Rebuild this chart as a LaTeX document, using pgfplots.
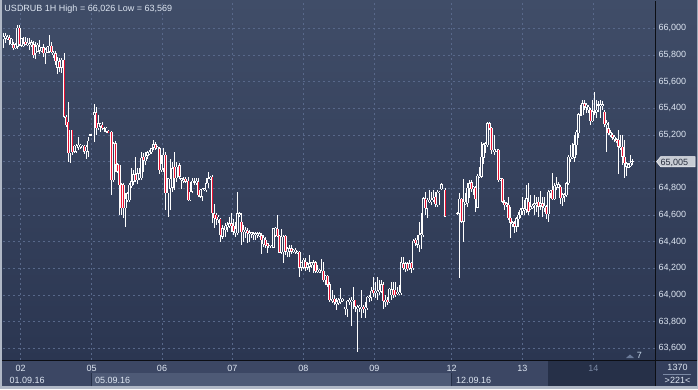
\documentclass[border=0pt]{standalone}
\usepackage{pgfplots}
\pgfplotsset{compat=1.18}
\usepackage{pgfplotstable}
\usepackage{fontspec}
\setmainfont{Liberation Sans}
\definecolor{framec}{RGB}{176,184,198}
\definecolor{bgtop}{RGB}{64,77,104}
\definecolor{bgbot}{RGB}{43,54,81}
\definecolor{gridc}{RGB}{88,104,138}
\definecolor{txt}{RGB}{222,230,242}
\definecolor{bear}{RGB}{232,18,50}
\definecolor{hollow}{RGB}{50,62,90}
\definecolor{rowa}{RGB}{60,71,100}
\definecolor{rowb}{RGB}{78,90,118}
\definecolor{darkseg}{RGB}{38,48,72}
\definecolor{cellc}{RGB}{52,63,92}
\definecolor{sepc}{RGB}{12,14,20}
\definecolor{dimtxt}{RGB}{124,138,165}
\definecolor{markc}{RGB}{200,204,212}
\definecolor{markt}{RGB}{40,46,62}
\definecolor{trig}{RGB}{106,122,152}
\definecolor{seven}{RGB}{205,222,240}
\newcommand\ff{\fontsize{9}{11}\selectfont}
\pgfplotstableread{
x o h l c
3.3 65.920 65.963 65.850 65.938
5.3 65.925 65.963 65.888 65.945
7.3 65.925 65.950 65.913 65.938
9.3 65.930 65.950 65.875 65.913
11.3 65.880 65.925 65.875 65.920
13.3 65.880 65.900 65.838 65.850
15.3 65.850 65.888 65.845 65.880
17.3 65.863 66.025 65.850 66.005
19.3 66.005 66.026 65.870 65.880
21.3 65.870 65.930 65.863 65.925
23.3 65.870 65.938 65.863 65.888
25.3 65.900 65.938 65.875 65.880
27.3 65.875 65.925 65.870 65.893
29.3 65.875 65.930 65.838 65.888
31.3 65.875 65.913 65.863 65.895
33.3 65.880 65.905 65.775 65.800
35.3 65.813 65.900 65.770 65.863
37.3 65.825 65.888 65.820 65.875
39.3 65.838 65.913 65.805 65.863
41.3 65.830 65.863 65.825 65.855
43.3 65.858 65.880 65.788 65.813
45.3 65.813 65.850 65.730 65.838
47.3 65.820 65.870 65.813 65.863
49.3 65.825 65.950 65.813 65.868
51.3 65.868 65.900 65.813 65.820
53.3 65.805 65.830 65.775 65.820
55.3 65.813 65.830 65.725 65.755
57.3 65.705 65.788 65.655 65.755
59.3 65.750 65.780 65.675 65.705
61.3 65.705 65.775 65.663 65.763
64.0 65.763 65.813 65.330 65.338
66.0 65.338 65.350 65.263 65.275
68.0 65.300 65.445 65.000 65.063
70.0 65.063 65.238 64.988 65.238
72.0 65.238 65.238 65.050 65.075
74.0 65.075 65.125 65.063 65.120
76.0 65.075 65.130 65.063 65.120
78.0 65.105 65.188 65.088 65.125
80.0 65.110 65.130 65.095 65.125
82.0 65.105 65.125 65.100 65.120
84.0 65.120 65.125 65.055 65.075
86.0 65.080 65.125 65.020 65.113
88.0 65.075 65.188 65.038 65.155
90.7 65.200 65.205 65.200 65.205
94.0 65.350 65.430 65.150 65.370
96.0 65.370 65.413 65.200 65.250
98.0 65.250 65.355 65.238 65.288
100.0 65.263 65.288 65.225 65.288
102.0 65.280 65.295 65.238 65.255
104.0 65.250 65.263 65.225 65.255
106.0 65.225 65.263 65.213 65.255
108.0 65.230 65.238 65.213 65.220
111.3 65.225 65.230 64.750 64.863
113.3 64.863 65.150 64.850 65.138
115.3 65.138 65.155 64.925 64.980
117.3 64.980 64.988 64.913 64.925
119.3 64.975 64.975 64.600 64.825
121.3 64.830 64.838 64.600 64.650
123.3 64.825 64.838 64.575 64.650
125.3 64.650 64.763 64.513 64.725
127.3 64.713 64.775 64.700 64.763
129.3 64.713 64.838 64.700 64.825
131.3 64.820 64.950 64.800 64.855
133.3 64.850 64.938 64.825 64.905
135.3 64.905 65.038 64.850 64.863
137.3 64.863 64.950 64.830 64.913
139.3 64.875 64.950 64.863 64.913
141.3 64.875 65.075 64.863 65.030
143.3 65.038 65.063 64.925 65.013
145.3 65.005 65.075 64.975 65.038
147.3 65.045 65.080 65.025 65.070
149.3 65.063 65.088 65.050 65.075
151.3 65.070 65.105 65.055 65.100
153.3 65.105 65.163 65.088 65.130
155.3 65.130 65.150 65.088 65.100
157.3 65.100 65.115 65.095 65.110
159.3 65.100 65.113 64.905 64.938
161.3 64.938 65.050 64.925 64.988
163.3 64.950 65.100 64.925 65.050
165.3 65.050 65.075 64.638 64.763
168.0 64.763 64.880 64.588 64.875
170.0 64.800 65.025 64.638 64.875
172.7 64.805 65.000 64.775 64.950
174.7 64.963 65.070 64.788 64.875
176.7 64.875 65.000 64.850 64.963
179.3 64.975 64.988 64.875 64.888
181.3 64.863 64.875 64.800 64.875
183.3 64.863 64.888 64.838 64.870
185.3 64.870 64.888 64.838 64.850
188.0 64.855 64.888 64.705 64.713
190.0 64.713 64.850 64.705 64.775
192.0 64.775 64.875 64.763 64.855
194.0 64.850 64.880 64.825 64.855
196.0 64.845 64.875 64.825 64.855
198.0 64.855 64.875 64.738 64.750
200.0 64.738 64.795 64.730 64.788
202.0 64.738 64.800 64.705 64.795
204.0 64.788 64.805 64.780 64.800
206.0 64.788 64.875 64.775 64.838
208.0 64.838 64.920 64.800 64.875
210.0 64.870 64.895 64.863 64.888
212.0 64.888 64.900 64.538 64.613
214.0 64.613 64.680 64.500 64.575
216.0 64.600 64.613 64.525 64.570
218.0 64.563 64.600 64.538 64.588
220.0 64.570 64.575 64.400 64.450
222.5 64.438 64.530 64.425 64.500
225.3 64.488 64.538 64.438 64.520
227.3 64.513 64.550 64.475 64.530
229.3 64.520 64.588 64.500 64.538
231.3 64.538 64.613 64.475 64.520
233.3 64.520 64.575 64.450 64.475
235.3 64.463 64.550 64.438 64.500
237.3 64.463 64.775 64.450 64.613
239.3 64.600 64.625 64.588 64.613
241.3 64.550 64.613 64.375 64.475
243.3 64.475 64.525 64.400 64.488
245.3 64.475 64.513 64.425 64.488
247.3 64.480 64.500 64.388 64.463
249.3 64.455 64.488 64.400 64.470
251.3 64.455 64.475 64.425 64.470
253.3 64.450 64.470 64.413 64.463
255.3 64.455 64.475 64.413 64.463
257.3 64.450 64.470 64.430 64.463
259.3 64.445 64.470 64.438 64.463
261.3 64.450 64.463 64.305 64.413
263.3 64.380 64.450 64.363 64.430
265.3 64.413 64.438 64.350 64.375
267.3 64.388 64.388 64.313 64.370
269.3 64.355 64.375 64.350 64.370
271.3 64.355 64.375 64.350 64.370
273.3 64.355 64.505 64.350 64.500
275.3 64.445 64.513 64.438 64.505
277.3 64.500 64.600 64.438 64.445
279.3 64.445 64.450 64.313 64.320
281.3 64.320 64.495 64.305 64.438
283.3 64.320 64.450 64.245 64.438
285.3 64.445 64.450 64.300 64.325
287.3 64.320 64.363 64.288 64.350
289.3 64.325 64.375 64.288 64.350
291.3 64.350 64.375 64.305 64.330
293.3 64.325 64.345 64.320 64.338
295.3 64.320 64.350 64.310 64.338
297.3 64.315 64.330 64.310 64.325
299.3 64.325 64.330 64.138 64.205
301.3 64.205 64.250 64.180 64.245
303.3 64.205 64.275 64.195 64.263
305.3 64.250 64.275 64.180 64.205
307.3 64.205 64.250 64.188 64.230
309.3 64.213 64.300 64.175 64.238
311.3 64.225 64.250 64.200 64.245
313.3 64.230 64.263 64.170 64.245
315.3 64.245 64.255 64.163 64.180
317.3 64.175 64.225 64.163 64.188
319.3 64.170 64.195 64.163 64.188
321.3 64.170 64.270 64.163 64.180
323.3 64.180 64.250 64.100 64.113
325.3 64.113 64.150 64.075 64.145
327.3 64.145 64.150 64.063 64.080
329.3 64.080 64.100 63.950 63.963
332.3 63.955 64.038 63.938 63.970
334.3 63.970 64.000 63.925 63.945
336.3 63.930 63.975 63.888 63.950
338.3 63.938 63.975 63.925 63.963
340.3 63.945 64.050 63.930 63.970
342.3 63.963 63.975 63.950 63.970
345.0 63.895 63.913 63.850 63.913
347.0 63.895 63.963 63.838 63.955
349.0 63.950 63.975 63.925 63.963
351.0 63.950 63.988 63.770 63.963
353.0 63.955 64.063 63.900 63.963
355.0 63.963 63.963 63.875 63.913
357.0 63.900 63.925 63.569 63.913
359.0 63.905 63.925 63.875 63.920
361.0 63.900 64.038 63.825 63.913
363.0 63.913 63.925 63.863 63.895
365.0 63.895 63.950 63.825 63.913
367.0 63.900 63.995 63.888 63.988
369.0 63.980 64.000 63.950 63.988
371.0 63.980 64.063 63.955 64.030
373.0 64.038 64.138 63.988 64.013
375.0 64.013 64.100 63.975 64.030
377.0 64.020 64.138 63.963 64.030
379.0 64.025 64.113 64.000 64.038
381.0 64.025 64.113 64.013 64.080
383.0 64.080 64.100 63.895 63.955
385.0 63.950 64.000 63.913 63.963
387.0 63.963 63.988 63.925 63.945
389.0 63.945 64.050 63.938 64.045
391.0 64.000 64.100 63.963 64.045
393.0 64.045 64.100 63.980 64.000
395.0 64.038 64.100 63.988 64.000
397.0 64.013 64.063 64.000 64.025
399.0 64.013 64.075 64.000 64.025
401.0 64.013 64.288 64.000 64.245
403.0 64.238 64.288 64.188 64.200
405.0 64.195 64.250 64.175 64.238
407.0 64.238 64.245 64.180 64.195
409.0 64.200 64.263 64.188 64.238
411.0 64.245 64.250 64.163 64.200
413.0 64.200 64.425 64.188 64.405
415.0 64.413 64.430 64.370 64.388
417.0 64.380 64.450 64.350 64.413
419.0 64.375 64.550 64.325 64.450
421.0 64.450 64.613 64.350 64.463
423.0 64.450 64.738 64.438 64.725
425.0 64.725 64.775 64.600 64.650
427.0 64.650 64.725 64.575 64.713
429.0 64.700 64.788 64.688 64.713
431.0 64.700 64.775 64.675 64.713
433.0 64.713 64.788 64.700 64.730
435.0 64.738 64.770 64.663 64.680
437.0 64.675 64.788 64.663 64.775
439.0 64.763 64.780 64.675 64.775
441.7 64.795 64.838 64.788 64.830
445.0 64.788 64.800 64.588 64.588
457.7 64.615 64.625 64.600 64.620
459.7 64.615 64.763 64.125 64.720
461.7 64.720 64.730 64.538 64.550
463.7 64.550 64.875 64.400 64.700
465.7 64.688 64.763 64.675 64.700
467.7 64.688 64.838 64.663 64.805
469.7 64.800 64.863 64.725 64.838
471.7 64.845 64.863 64.775 64.795
473.7 64.795 64.820 64.750 64.813
475.7 64.805 64.820 64.620 64.720
477.7 64.655 64.905 64.650 64.895
479.7 64.888 64.963 64.875 64.895
481.7 64.888 65.150 64.875 65.038
483.7 65.030 65.138 64.980 65.130
485.7 65.125 65.150 65.063 65.138
487.7 65.125 65.300 65.113 65.288
489.7 65.288 65.300 65.238 65.250
491.7 65.255 65.263 65.055 65.088
494.7 65.075 65.200 65.050 65.088
496.7 65.085 65.100 65.075 65.095
498.7 65.088 65.095 64.850 64.863
500.7 64.863 64.880 64.855 64.875
502.7 64.870 64.875 64.688 64.700
504.7 64.695 64.713 64.638 64.675
506.7 64.675 64.700 64.663 64.688
508.7 64.675 64.738 64.563 64.575
510.7 64.580 64.663 64.430 64.545
512.7 64.530 64.555 64.513 64.545
514.7 64.538 64.555 64.463 64.513
516.7 64.513 64.588 64.475 64.575
518.7 64.570 64.625 64.513 64.600
520.7 64.600 64.650 64.575 64.638
522.7 64.630 64.738 64.600 64.650
524.7 64.638 64.713 64.600 64.650
526.7 64.645 64.830 64.613 64.725
528.7 64.700 64.838 64.600 64.625
530.7 64.650 64.750 64.638 64.663
532.7 64.655 64.680 64.645 64.670
534.7 64.675 64.750 64.600 64.688
536.7 64.675 64.738 64.620 64.688
538.7 64.700 64.738 64.588 64.663
540.7 64.675 64.780 64.638 64.688
542.7 64.688 64.738 64.588 64.663
544.7 64.655 64.738 64.625 64.670
546.7 64.663 64.675 64.570 64.605
548.7 64.605 64.788 64.550 64.775
550.7 64.770 64.788 64.730 64.780
552.7 64.788 64.913 64.713 64.720
554.7 64.720 64.838 64.713 64.820
556.7 64.805 64.888 64.788 64.825
558.7 64.813 64.850 64.800 64.830
560.7 64.813 64.825 64.680 64.725
562.7 64.725 64.763 64.670 64.755
564.7 64.745 64.763 64.700 64.755
566.7 64.750 64.850 64.738 64.838
568.7 64.838 65.050 64.825 65.038
570.7 65.025 65.125 65.000 65.038
572.7 65.030 65.138 65.020 65.038
574.7 65.030 65.200 65.000 65.130
576.7 65.125 65.238 65.050 65.225
578.7 65.213 65.363 65.175 65.355
580.7 65.350 65.425 65.345 65.355
582.7 65.350 65.463 65.350 65.438
584.7 65.438 65.463 65.388 65.413
586.7 65.405 65.438 65.363 65.425
588.7 65.388 65.425 65.370 65.410
590.7 65.388 65.400 65.275 65.305
592.7 65.305 65.463 65.300 65.375
594.7 65.375 65.520 65.350 65.380
596.7 65.375 65.463 65.325 65.388
598.7 65.425 65.455 65.375 65.430
600.7 65.420 65.463 65.325 65.430
602.7 65.420 65.455 65.388 65.430
604.7 65.375 65.388 65.263 65.280
606.7 65.280 65.313 65.075 65.295
608.7 65.250 65.300 65.200 65.213
610.7 65.200 65.238 65.188 65.220
612.7 65.200 65.213 65.163 65.180
614.7 65.170 65.200 65.150 65.188
616.5 65.170 65.180 65.145 65.155
618.5 65.163 65.238 64.905 65.113
620.5 65.105 65.200 65.088 65.113
622.5 65.113 65.200 64.975 65.038
624.5 65.038 65.163 64.880 64.988
626.3 64.963 65.000 64.895 64.988
628.3 64.955 64.988 64.950 64.980
630.3 64.970 65.050 64.963 64.995
632.3 65.000 65.020 64.975 65.005
}\candles
\begin{document}
\begin{tikzpicture}[x=1pt,y=1pt]
\useasboundingbox (0,0) rectangle (698,389);
\fill[framec] (0,0) rectangle (698,389);
\shade[top color=bgtop, bottom color=bgbot] (2,29) rectangle (697,388);
% bottom bar
\fill[rowa] (2,16) rectangle (655,29);
\fill[rowa] (2,3) rectangle (91,16);
\fill[rowb] (91,3) rectangle (451,16);
\fill[rowa] (451,3) rectangle (548,16);
\fill[darkseg] (548,3) rectangle (655,29);
\fill[cellc] (655,3) rectangle (697,29);
\draw[darkseg, line width=0.8pt] (91,3) -- (91,16);
\draw[darkseg, line width=0.8pt] (451,3) -- (451,16);
\begin{axis}[
  at={(3pt,29pt)}, anchor=south west,
  scale only axis, width=652pt, height=358pt,
  xmin=3, xmax=655, ymin=63.5125, ymax=66.1975,
  axis line style={draw=none},
  major tick length=0pt,
  xtick={20.7,91.7,162,232.3,303.3,374.3,451.7,522.3,593.3},
  xticklabels={02,05,06,07,08,09,12,13,{\textcolor{dimtxt}{14}}},
  ytick={63.6,63.8,64.0,64.2,64.4,64.6,64.8,65.0,65.2,65.4,65.6,65.8,66.0},
  yticklabels={{63,600},{63,800},{64,000},{64,200},{64,400},{64,600},{64,800},{},{65,200},{65,400},{65,600},{65,800},{66,000}},
  yticklabel pos=right,
  grid=major,
  major grid style={gridc, dash pattern=on 2pt off 3pt, line width=0.7pt},
  tick label style={font=\ff, text=txt},
  yticklabel style={anchor=west},
  xticklabel style={anchor=base, yshift=-11.7pt},
]
% wicks
\addplot[draw=none, mark=none, error bars/.cd, y dir=both, y explicit, error mark=none,
  error bar style={draw=white, solid, line width=1pt}]
  table[x=x, y expr={(\thisrow{h}+\thisrow{l})/2}, y error expr={(\thisrow{h}-\thisrow{l})/2}] {\candles};
% bodies
\addplot[draw=none, mark=none, error bars/.cd, y dir=both, y explicit, error mark=none,
  error bar style={draw=white, solid, line width=2.6pt}]
  table[x=x, y expr={(\thisrow{o}+\thisrow{c})/2}, y error expr={max(abs(\thisrow{o}-\thisrow{c})/2,0.0017)}] {\candles};
% bearish interior
\addplot[draw=none, mark=none, restrict expr to domain={\thisrow{o}-\thisrow{c}}{0.00001:10},
  error bars/.cd, y dir=both, y explicit, error mark=none,
  error bar style={draw=bear, solid, line width=1pt}]
  table[x=x, y expr={(\thisrow{o}+\thisrow{c})/2}, y error expr={max(abs(\thisrow{o}-\thisrow{c})/2-0.0027,0)}] {\candles};
% bullish interior
\addplot[draw=none, mark=none, restrict expr to domain={\thisrow{o}-\thisrow{c}}{-10:0},
  error bars/.cd, y dir=both, y explicit, error mark=none,
  error bar style={draw=hollow, solid, line width=0.8pt}]
  table[x=x, y expr={(\thisrow{o}+\thisrow{c})/2}, y error expr={max(abs(\thisrow{o}-\thisrow{c})/2-0.0027,0)}] {\candles};
\end{axis}
% separators
\draw[sepc, line width=1pt] (655,3) -- (655,388);
\draw[sepc, line width=1pt] (2,29) -- (697,29);
% title
\node[anchor=base west, inner sep=0, text=txt, font=\ff] at (4.3,377.7) {USDRUB 1H High = 66,026 Low = 63,569};
% price marker
\filldraw[fill=markc, draw=white!85!markc, line width=0.5pt] (656.5,227.3) -- (660.7,232.4) -- (695,232.4) -- (695,222.2) -- (660.7,222.2) -- cycle;
\node[anchor=base west, inner sep=0, text=markt, font=\ff] at (660.5,224) {65,005};
% bottom texts
\node[anchor=base west, inner sep=0, text=txt, font=\ff] at (9.3,5.7) {01.09.16};
\node[anchor=base west, inner sep=0, text=txt, font=\ff] at (95,5.7) {05.09.16};
\node[anchor=base west, inner sep=0, text=txt, font=\ff] at (456,5.7) {12.09.16};
\node[anchor=base, inner sep=0, text=txt, font=\ff] at (677.5,18.3) {1370};
\draw[dimtxt, line width=0.6pt] (663,15) -- (691,15);
\node[anchor=base, inner sep=0, text=txt, font=\ff] at (677.5,5.7) {>221<};
% small marker at bottom right of plot
\fill[trig] (626,31) -- (634,31) -- (630,34.5) -- cycle;
\node[anchor=base west, inner sep=0, text=seven, font=\ff] at (636.7,31) {7};
\end{tikzpicture}
\end{document}
